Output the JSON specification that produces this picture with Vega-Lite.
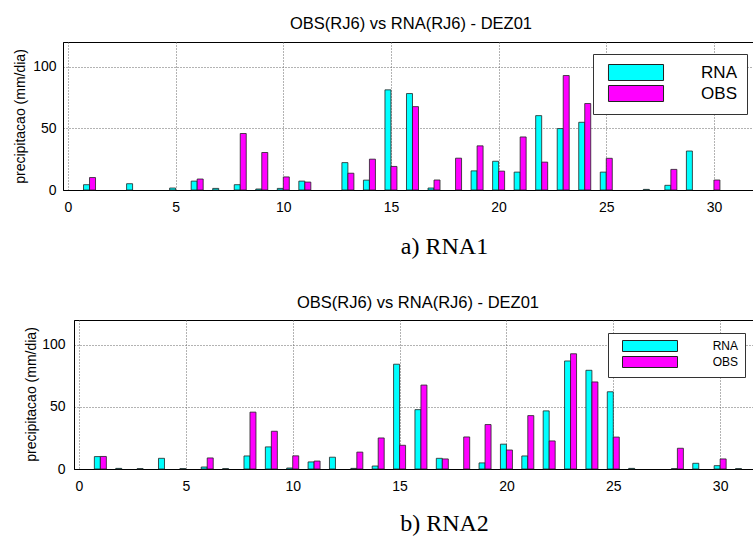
{
  "$schema": "https://vega.github.io/schema/vega-lite/v6.json",
  "padding": {"left": 12, "top": 15, "right": 0, "bottom": 0},
  "background": "white",
  "bounds": "flush",
  "center": true,
  "spacing": 130,
  "config": {
    "font": "Liberation Sans",
    "view": {"stroke": "#000", "strokeWidth": 1},
    "axis": {"domainColor": "#000", "labelColor": "#000", "labelFontSize": 14, "labelFont": "Liberation Sans", "ticks": false, "grid": true, "gridColor": "#666", "gridDash": [1, 2], "gridOpacity": 1, "gridWidth": 1, "titleColor": "#000", "titleFontWeight": "normal"},
    "title": {"fontSize": 16.5, "fontWeight": "normal", "color": "#000", "font": "Liberation Sans"}
  },
  "datasets": {
    "a": [
      {"day": 1, "series": "RNA", "value": 4.3}, {"day": 3, "series": "RNA", "value": 5.1}, {"day": 5, "series": "RNA", "value": 1.6},
      {"day": 6, "series": "RNA", "value": 7.2}, {"day": 7, "series": "RNA", "value": 1.3}, {"day": 8, "series": "RNA", "value": 4.3},
      {"day": 9, "series": "RNA", "value": 0.8}, {"day": 10, "series": "RNA", "value": 1.3}, {"day": 11, "series": "RNA", "value": 7.2},
      {"day": 13, "series": "RNA", "value": 22.2}, {"day": 14, "series": "RNA", "value": 8.0}, {"day": 15, "series": "RNA", "value": 81.2},
      {"day": 16, "series": "RNA", "value": 78.2}, {"day": 17, "series": "RNA", "value": 1.6}, {"day": 19, "series": "RNA", "value": 15.5},
      {"day": 20, "series": "RNA", "value": 23.3}, {"day": 21, "series": "RNA", "value": 14.5}, {"day": 22, "series": "RNA", "value": 60.3},
      {"day": 23, "series": "RNA", "value": 49.8}, {"day": 24, "series": "RNA", "value": 54.9}, {"day": 25, "series": "RNA", "value": 14.5},
      {"day": 27, "series": "RNA", "value": 0.5}, {"day": 28, "series": "RNA", "value": 3.8}, {"day": 29, "series": "RNA", "value": 31.6},
      {"day": 1, "series": "OBS", "value": 10.1}, {"day": 6, "series": "OBS", "value": 8.9}, {"day": 8, "series": "OBS", "value": 45.8},
      {"day": 9, "series": "OBS", "value": 30.4}, {"day": 10, "series": "OBS", "value": 10.6}, {"day": 11, "series": "OBS", "value": 6.4},
      {"day": 13, "series": "OBS", "value": 13.6}, {"day": 14, "series": "OBS", "value": 25.0}, {"day": 15, "series": "OBS", "value": 19.1},
      {"day": 16, "series": "OBS", "value": 67.6}, {"day": 17, "series": "OBS", "value": 8.1}, {"day": 18, "series": "OBS", "value": 25.8},
      {"day": 19, "series": "OBS", "value": 35.8}, {"day": 20, "series": "OBS", "value": 15.3}, {"day": 21, "series": "OBS", "value": 43.0},
      {"day": 22, "series": "OBS", "value": 22.6}, {"day": 23, "series": "OBS", "value": 92.8}, {"day": 24, "series": "OBS", "value": 70.1},
      {"day": 25, "series": "OBS", "value": 25.7}, {"day": 28, "series": "OBS", "value": 16.7}, {"day": 30, "series": "OBS", "value": 8.1}
    ],
    "b": [
      {"day": 1, "series": "RNA", "value": 10.0}, {"day": 2, "series": "RNA", "value": 0.5}, {"day": 3, "series": "RNA", "value": 0.3},
      {"day": 4, "series": "RNA", "value": 8.6}, {"day": 5, "series": "RNA", "value": 0.3}, {"day": 6, "series": "RNA", "value": 1.6},
      {"day": 7, "series": "RNA", "value": 0.3}, {"day": 8, "series": "RNA", "value": 10.5}, {"day": 9, "series": "RNA", "value": 17.8},
      {"day": 10, "series": "RNA", "value": 0.8}, {"day": 11, "series": "RNA", "value": 5.7}, {"day": 12, "series": "RNA", "value": 9.5},
      {"day": 13, "series": "RNA", "value": 0.5}, {"day": 14, "series": "RNA", "value": 2.4}, {"day": 15, "series": "RNA", "value": 84.4},
      {"day": 16, "series": "RNA", "value": 47.8}, {"day": 17, "series": "RNA", "value": 8.6}, {"day": 19, "series": "RNA", "value": 4.9},
      {"day": 20, "series": "RNA", "value": 20.0}, {"day": 21, "series": "RNA", "value": 10.5}, {"day": 22, "series": "RNA", "value": 46.8},
      {"day": 23, "series": "RNA", "value": 87.0}, {"day": 24, "series": "RNA", "value": 79.5}, {"day": 25, "series": "RNA", "value": 62.2},
      {"day": 26, "series": "RNA", "value": 0.5}, {"day": 28, "series": "RNA", "value": 0.3}, {"day": 29, "series": "RNA", "value": 4.6},
      {"day": 30, "series": "RNA", "value": 2.7}, {"day": 31, "series": "RNA", "value": 0.3},
      {"day": 1, "series": "OBS", "value": 10.1}, {"day": 6, "series": "OBS", "value": 8.9}, {"day": 8, "series": "OBS", "value": 45.8},
      {"day": 9, "series": "OBS", "value": 30.4}, {"day": 10, "series": "OBS", "value": 10.6}, {"day": 11, "series": "OBS", "value": 6.4},
      {"day": 13, "series": "OBS", "value": 13.6}, {"day": 14, "series": "OBS", "value": 25.0}, {"day": 15, "series": "OBS", "value": 19.1},
      {"day": 16, "series": "OBS", "value": 67.6}, {"day": 17, "series": "OBS", "value": 8.1}, {"day": 18, "series": "OBS", "value": 25.8},
      {"day": 19, "series": "OBS", "value": 35.8}, {"day": 20, "series": "OBS", "value": 15.3}, {"day": 21, "series": "OBS", "value": 43.0},
      {"day": 22, "series": "OBS", "value": 22.6}, {"day": 23, "series": "OBS", "value": 92.8}, {"day": 24, "series": "OBS", "value": 70.1},
      {"day": 25, "series": "OBS", "value": 25.7}, {"day": 28, "series": "OBS", "value": 16.7}, {"day": 30, "series": "OBS", "value": 8.1}
    ]
  },
  "resolve": {"legend": {"color": "independent"}, "scale": {"color": "independent"}},
  "vconcat": [
    {
      "width": 702,
      "height": 148,
      "title": {"text": "OBS(RJ6) vs RNA(RJ6) - DEZ01", "frame": "group", "anchor": "middle", "dx": -3, "offset": -3, "baseline": "alphabetic"},
      "data": {"name": "a"},
      "encoding": {
        "x": {"field": "day", "type": "quantitative", "scale": {"domain": [0, 32.14], "nice": false, "zero": false},
              "axis": {"values": [0, 5, 10, 15, 20, 25, 30], "format": "d", "labelPadding": 10, "title": "a) RNA1", "titleFont": "Liberation Serif", "titleFontSize": 24, "titleBaseline": "alphabetic", "titleAlign": "center", "titleX": 381, "titleY": 63}},
        "y": {"field": "value", "type": "quantitative", "scale": {"domain": [0, 120], "nice": false},
              "axis": {"values": [0, 50, 100], "labelPadding": 7, "title": "precipitacao (mm/dia)", "titleFontSize": 14, "titleAngle": -90, "titleBaseline": "middle", "titleAlign": "center", "titleX": -43, "titleY": 74}},
        "color": {"field": "series", "type": "nominal", "scale": {"domain": ["RNA", "OBS"], "range": ["#00FFFF", "#FF00FF"]},
                  "legend": {"orient": "none", "legendX": 530, "legendY": 12, "title": null, "symbolType": "M-3.44,-1H3.44V1H-3.44Z", "symbolSize": 256, "symbolStrokeColor": "#222", "symbolStrokeWidth": 1, "symbolOpacity": 1, "symbolOffset": 24.5, "labelFontSize": 17, "labelColor": "#000", "labelAlign": "right", "labelOffset": 92.5, "labelBaseline": "middle", "rowPadding": 0, "padding": 10, "strokeColor": "#333", "fillColor": "#fff"}}
      },
      "layer": [
        {"transform": [{"filter": "datum.series === 'RNA'"}], "mark": {"type": "bar", "size": 6, "xOffset": -3, "stroke": "#222", "strokeWidth": 0.8}},
        {"transform": [{"filter": "datum.series === 'OBS'"}], "mark": {"type": "bar", "size": 6, "xOffset": 3, "stroke": "#222", "strokeWidth": 0.8}}
      ]
    },
    {
      "width": 680,
      "height": 149,
      "title": {"text": "OBS(RJ6) vs RNA(RJ6) - DEZ01", "frame": "group", "anchor": "middle", "dx": 4, "offset": -4, "baseline": "alphabetic"},
      "data": {"name": "b"},
      "encoding": {
        "x": {"field": "day", "type": "quantitative", "scale": {"domain": [0, 31.35], "nice": false, "zero": false},
              "axis": {"values": [0, 5, 10, 15, 20, 25, 30], "format": "d", "labelPadding": 10, "title": "b) RNA2", "titleFont": "Liberation Serif", "titleFontSize": 24, "titleBaseline": "alphabetic", "titleAlign": "center", "titleX": 370, "titleY": 61}},
        "y": {"field": "value", "type": "quantitative", "scale": {"domain": [0, 120], "nice": false},
              "axis": {"values": [0, 50, 100], "labelPadding": 9, "title": "precipitacao (mm/dia)", "titleFontSize": 14, "titleAngle": -90, "titleBaseline": "middle", "titleAlign": "center", "titleX": -43, "titleY": 74}},
        "color": {"field": "series", "type": "nominal", "scale": {"domain": ["RNA", "OBS"], "range": ["#00FFFF", "#FF00FF"]},
                  "legend": {"orient": "none", "legendX": 534, "legendY": 13, "title": null, "symbolType": "M-5,-1H5V1H-5Z", "symbolSize": 121, "symbolStrokeColor": "#222", "symbolStrokeWidth": 1, "symbolOpacity": 1, "symbolOffset": 29, "labelFontSize": 12, "labelColor": "#000", "labelAlign": "right", "labelOffset": 82, "labelBaseline": "middle", "rowPadding": 0, "padding": 7, "strokeColor": "#333", "fillColor": "#fff"}}
      },
      "layer": [
        {"transform": [{"filter": "datum.series === 'RNA'"}], "mark": {"type": "bar", "size": 6, "xOffset": -3, "stroke": "#222", "strokeWidth": 0.8}},
        {"transform": [{"filter": "datum.series === 'OBS'"}], "mark": {"type": "bar", "size": 6, "xOffset": 3, "stroke": "#222", "strokeWidth": 0.8}}
      ]
    }
  ]
}
